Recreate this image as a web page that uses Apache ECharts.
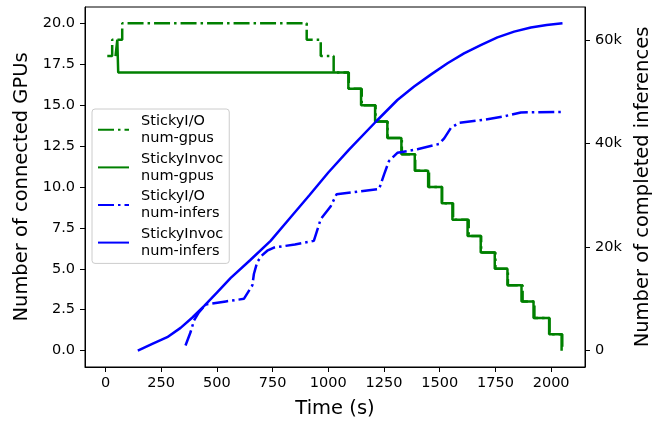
<!DOCTYPE html>
<html>
<head>
<meta charset="utf-8">
<script src="https://cdn.jsdelivr.net/npm/echarts@6/dist/echarts.min.js"></script>
<style>
  html, body { margin: 0; padding: 0; background: #fff; }
  #main { width: 662px; height: 424px; }
</style>
</head>
<body>
<div id="main"></div>
<script>
  // GPU counts: change points [time (s), gpus] drawn as steps
  const ioGpus = [[8, 18], [30, 19], [75, 20], [903, 19], [966, 18], [1024, 17], [1092, 16], [1150, 15],
    [1212, 14], [1266, 13], [1330, 12], [1390, 11], [1452, 10], [1511, 9], [1560, 8], [1630, 7],
    [1686, 6], [1750, 5], [1806, 4], [1872, 3], [1925, 2], [1993, 1], [2050, 0]];
  const invocGpus = [[45, 18], [53, 19], [57, 17], [1090, 16], [1147, 15], [1210, 14], [1265, 13],
    [1328, 12], [1388, 11], [1448, 10], [1509, 9], [1557, 8], [1625, 7], [1684, 6], [1747, 5],
    [1804, 4], [1867, 3], [1921, 2], [1991, 1], [2047, 0]];

  // completed inferences [time (s), count]
  const ioInfers = [[359, 1000], [382, 3600], [397, 5800], [419, 7400], [449, 8900], [540, 9500],
    [621, 10000], [659, 12600], [666, 14800], [681, 17100], [700, 18300], [726, 19300], [756, 19900],
    [850, 20500], [935, 21200], [966, 25400], [1011, 27900], [1037, 30200], [1130, 30700],
    [1228, 31200], [1250, 34000], [1272, 36600], [1310, 38200], [1400, 38900], [1497, 39900],
    [1520, 41000], [1550, 43000], [1587, 44000], [1700, 44600], [1789, 45250], [1864, 46000],
    [2051, 46100]];
  const invocInfers = [[145, 0], [210, 1300], [277, 2600], [337, 4400], [390, 6400], [442, 8600],
    [500, 11200], [561, 14000], [650, 17500], [741, 21200], [830, 25700], [915, 30000],
    [1000, 34400], [1093, 38800], [1213, 44200], [1310, 48400], [1385, 51000], [1460, 53300],
    [1535, 55500], [1609, 57400], [1684, 59000], [1759, 60500], [1834, 61600], [1909, 62400],
    [1980, 62900], [2051, 63200]];

  const xTicks = [0, 250, 500, 750, 1000, 1250, 1500, 1750, 2000];
  const gpuTicks = [0, 2.5, 5, 7.5, 10, 12.5, 15, 17.5, 20];
  const inferTicks = [0, 20000, 40000, 60000];

  const FONT = 'DejaVu Sans';
  const green = '#008000';
  const blue = '#0000ff';
  const dashDot = [16, 4, 2.5, 4];
  const LW = 2.5;

  let myChart = echarts.init(document.getElementById('main'), null, { renderer: 'canvas' });

  function axisBase(ticks) {
    return {
      axisLine: { show: true, onZero: false, lineStyle: { color: '#000', width: 1 } },
      axisTick: { show: true, inside: false, length: 5, customValues: ticks, lineStyle: { color: '#000', width: 1 } },
      splitLine: { show: false },
      nameLocation: 'middle',
      nameTextStyle: { fontFamily: FONT, fontSize: 19.5, color: '#000' }
    };
  }

  let option = {
    animation: false,
    backgroundColor: '#fff',
    grid: {
      left: 85, top: 7, width: 500, height: 361,
      show: true, borderColor: '#000', borderWidth: 1, backgroundColor: 'transparent'
    },
    legend: {
      orient: 'vertical',
      left: 92, top: 109,
      itemWidth: 31, itemHeight: 14, itemGap: 4,
      padding: [4, 6, 4, 5],
      backgroundColor: 'rgba(255,255,255,0.8)',
      borderColor: '#cccccc', borderWidth: 1, borderRadius: 3,
      itemStyle: { opacity: 0 },
      textStyle: { fontFamily: FONT, fontSize: 14.5, lineHeight: 16.8, color: '#000', padding: [0, 0, 0, 7] }
    },
    xAxis: Object.assign(axisBase(xTicks), {
      type: 'value', min: -92, max: 2152,
      name: 'Time (s)', nameGap: 32,
      axisLabel: {
        customValues: xTicks, margin: 9, fontFamily: FONT, fontSize: 14.5, color: '#000',
        formatter: v => String(v)
      }
    }),
    yAxis: [
      Object.assign(axisBase(gpuTicks), {
        type: 'value', min: -1, max: 21, position: 'left',
        name: 'Number of connected GPUs', nameGap: 50, nameRotate: 90,
        axisLabel: {
          customValues: gpuTicks, margin: 10, fontFamily: FONT, fontSize: 14.5, color: '#000',
          formatter: v => v.toFixed(1)
        }
      }),
      Object.assign(axisBase(inferTicks), {
        type: 'value', min: -3160, max: 66360, position: 'right',
        name: 'Number of completed inferences', nameGap: 48, nameRotate: 90,
        axisLabel: {
          customValues: inferTicks, margin: 10, fontFamily: FONT, fontSize: 14.5, color: '#000',
          formatter: v => (v === 0 ? '0' : v / 1000 + 'k')
        }
      })
    ],
    series: [
      {
        name: 'StickyI/O\nnum-gpus', type: 'line', yAxisIndex: 0, step: 'end',
        symbol: 'none', data: ioGpus,
        lineStyle: { color: green, width: LW, type: dashDot }, itemStyle: { color: green }
      },
      {
        name: 'StickyInvoc\nnum-gpus', type: 'line', yAxisIndex: 0, step: 'end',
        symbol: 'none', data: invocGpus,
        lineStyle: { color: green, width: LW, type: 'solid' }, itemStyle: { color: green }
      },
      {
        name: 'StickyI/O\nnum-infers', type: 'line', yAxisIndex: 1,
        symbol: 'none', data: ioInfers,
        lineStyle: { color: blue, width: LW, type: dashDot }, itemStyle: { color: blue }
      },
      {
        name: 'StickyInvoc\nnum-infers', type: 'line', yAxisIndex: 1,
        symbol: 'none', data: invocInfers,
        lineStyle: { color: blue, width: LW, type: 'solid' }, itemStyle: { color: blue }
      }
    ]
  };

  myChart.setOption(option);
</script>
</body>
</html>
